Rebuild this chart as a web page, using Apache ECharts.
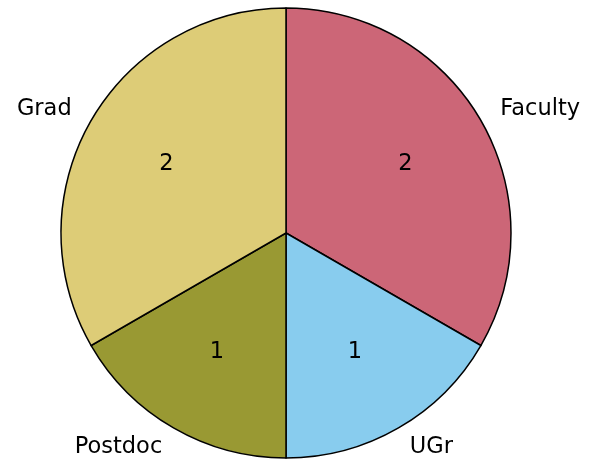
<!DOCTYPE html>
<html>
<head>
<meta charset="utf-8">
<script src="https://cdn.jsdelivr.net/npm/echarts@6/dist/echarts.min.js"></script>
<style>
  html, body { margin: 0; padding: 0; background: #fff; }
  #chart { width: 594px; height: 462px; }
</style>
</head>
<body>
<div id="chart"></div>
<script>
// slices, clockwise from the top
const categories = ['Faculty', 'UGr', 'Postdoc', 'Grad']
const counts = [2, 1, 1, 2]
const colors = ['#CC6677', '#88CCEE', '#999933', '#DDCC77']

const cx = 286
const cy = 233
const r = 225
const font = 'DejaVu Sans'

const slices = categories.map((name, i) => ({
  name: name,
  value: counts[i],
  itemStyle: { color: colors[i] }
}))

const chart = echarts.init(document.getElementById('chart'))
chart.setOption({
  animation: false,
  series: [
    {
      // the pie itself, names outside
      type: 'pie',
      center: [cx, cy],
      radius: [0, r],
      startAngle: 90,
      clockwise: true,
      avoidLabelOverlap: false,
      silent: true,
      itemStyle: { borderColor: '#000', borderWidth: 1.5 },
      label: {
        show: true,
        position: 'outside',
        formatter: '{b}',
        fontFamily: font,
        fontSize: 22.5,
        color: '#000',
        distanceToLabelLine: 0
      },
      labelLine: { show: false, length: r * 0.1, length2: 0 },
      data: slices
    },
    {
      // transparent copy so the values sit at 0.6 of the radius
      type: 'pie',
      center: [cx, cy],
      radius: [0, r * 1.2],
      startAngle: 90,
      clockwise: true,
      avoidLabelOverlap: false,
      silent: true,
      z: 3,
      itemStyle: { color: 'transparent', borderWidth: 0 },
      label: {
        show: true,
        position: 'inside',
        formatter: '{c}',
        fontFamily: font,
        fontSize: 22.5,
        color: '#000'
      },
      labelLine: { show: false },
      data: categories.map((name, i) => ({ name: name, value: counts[i] }))
    }
  ]
})
</script>
</body>
</html>
